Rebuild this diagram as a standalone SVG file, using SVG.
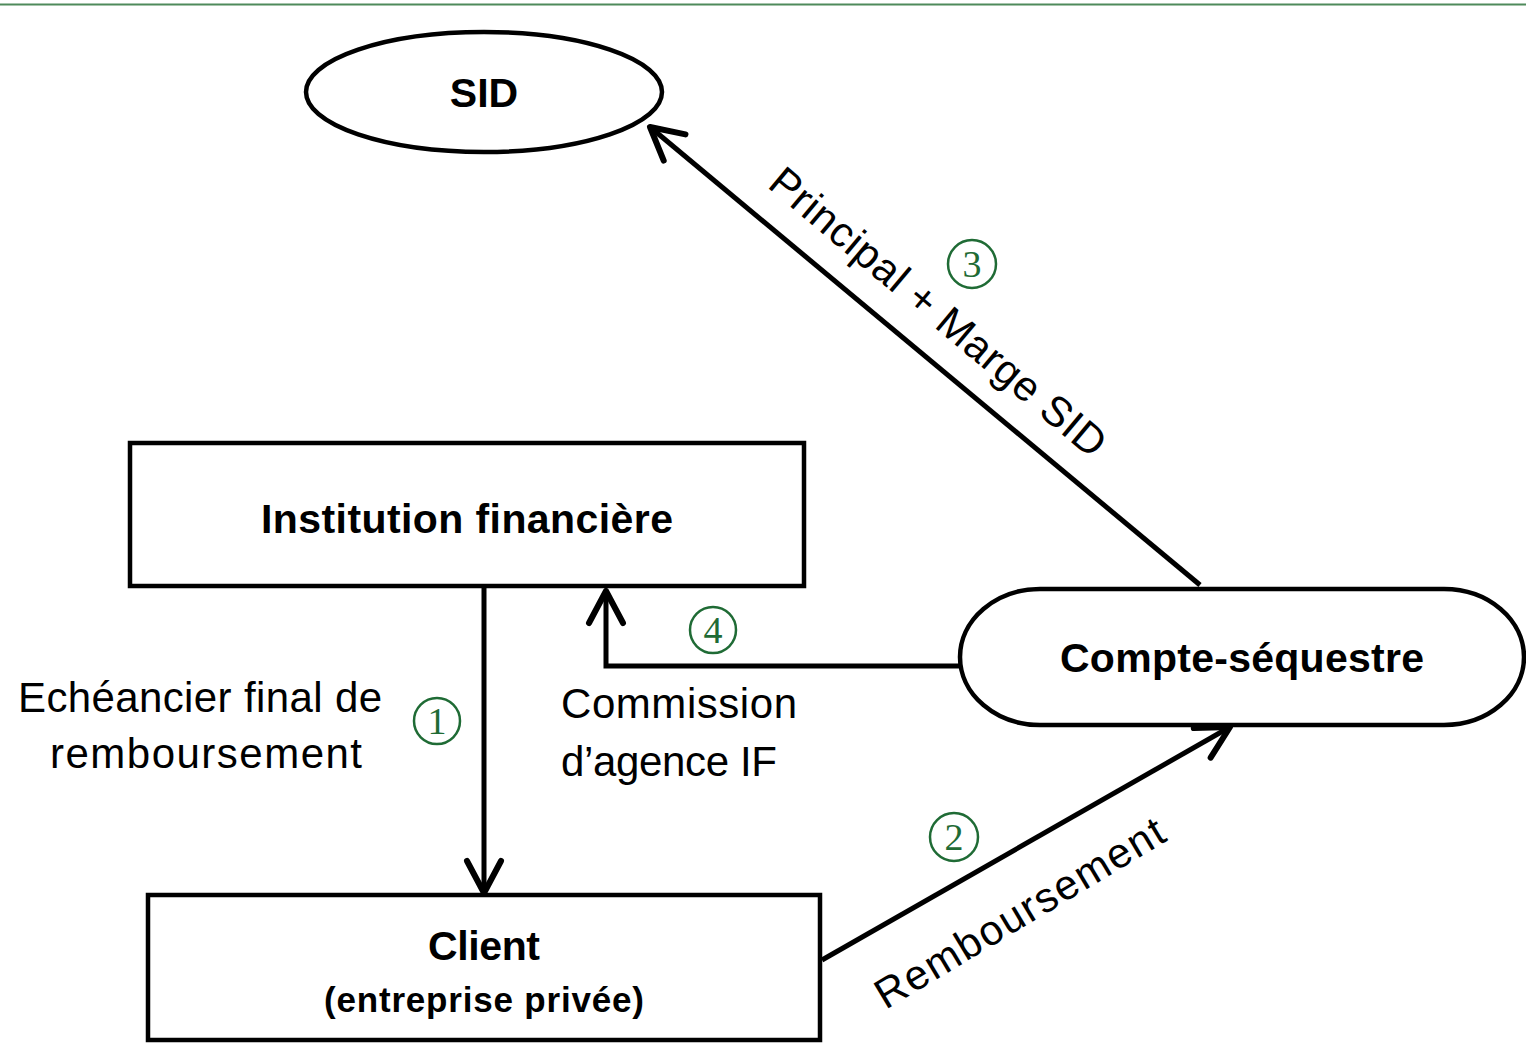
<svg xmlns="http://www.w3.org/2000/svg" width="1526" height="1043" viewBox="0 0 1526 1043">
<defs>
<style>
.shape{fill:#fff;stroke:#000;stroke-width:4.5}
.conn{fill:none;stroke:#000;stroke-width:5}
.bold{font-family:"Liberation Sans",Arial,sans-serif;font-weight:bold;font-size:41px;fill:#000;text-anchor:middle}
.lbl{font-family:"Liberation Sans",Arial,sans-serif;font-size:42px;fill:#000}
.num circle{fill:none;stroke:#1f6b35;stroke-width:2.5}
.num text{font-family:"Liberation Serif","Times New Roman",serif;font-size:38px;fill:#1f6b35;text-anchor:middle}
</style>
<marker id="arr" markerUnits="userSpaceOnUse" markerWidth="60" markerHeight="60" refX="0" refY="0" orient="auto" overflow="visible">
<path d="M-32,-17 L0,0 L-32,17" fill="none" stroke="#000" stroke-width="6" stroke-linecap="round" stroke-linejoin="round"/>
</marker>
</defs>
<rect width="1526" height="1043" fill="#fff"/>
<line x1="0" y1="4.5" x2="1526" y2="4.5" stroke="#4f8a5b" stroke-width="2"/>

<g id="connectors">
<line class="conn" x1="484" y1="587" x2="484" y2="893" marker-end="url(#arr)"/>
<polyline class="conn" points="960,666 606,666 606,591" marker-end="url(#arr)"/>
<line class="conn" x1="822" y1="960" x2="1230" y2="727" marker-end="url(#arr)"/>
<line class="conn" x1="1200" y1="585" x2="650" y2="127" marker-end="url(#arr)"/>
</g>

<g id="node-sid">
<ellipse class="shape" cx="484" cy="92" rx="178" ry="60"/>
<text class="bold" x="484" y="107">SID</text>
</g>

<g id="node-if">
<rect class="shape" x="130" y="443" width="674" height="143"/>
<text class="bold" x="467" y="533" textLength="412">Institution financière</text>
</g>

<g id="node-client">
<rect class="shape" x="148" y="895" width="672" height="145"/>
<text class="bold" x="484" y="960" textLength="112">Client</text>
<text class="bold" x="484" y="1012" style="font-size:35px" textLength="320">(entreprise privée)</text>
</g>

<g id="node-compte">
<rect class="shape" x="960" y="589" width="564" height="136" rx="80" ry="68"/>
<text class="bold" x="1242" y="672" textLength="364">Compte-séquestre</text>
</g>

<g id="labels">
<text class="lbl" x="200" y="712" text-anchor="middle" textLength="364">Echéancier final de</text>
<text class="lbl" x="206" y="768" text-anchor="middle" textLength="312">remboursement</text>
<text class="lbl" x="561" y="718" textLength="236">Commission</text>
<text class="lbl" x="561" y="776" textLength="216">d’agence IF</text>
<text class="lbl" text-anchor="middle" transform="translate(929,323) rotate(40)" textLength="425">Principal + Marge SID</text>
<text class="lbl" text-anchor="middle" transform="translate(1027,925) rotate(-31)" textLength="330">Remboursement</text>
</g>

<g id="numbers">
<g class="num"><circle cx="437" cy="721" r="23"/><text x="437" y="734">1</text></g>
<g class="num"><circle cx="954" cy="837" r="24"/><text x="954" y="850">2</text></g>
<g class="num"><circle cx="972" cy="264" r="24"/><text x="972" y="277">3</text></g>
<g class="num"><circle cx="713" cy="630" r="23"/><text x="713" y="643">4</text></g>
</g>
</svg>
